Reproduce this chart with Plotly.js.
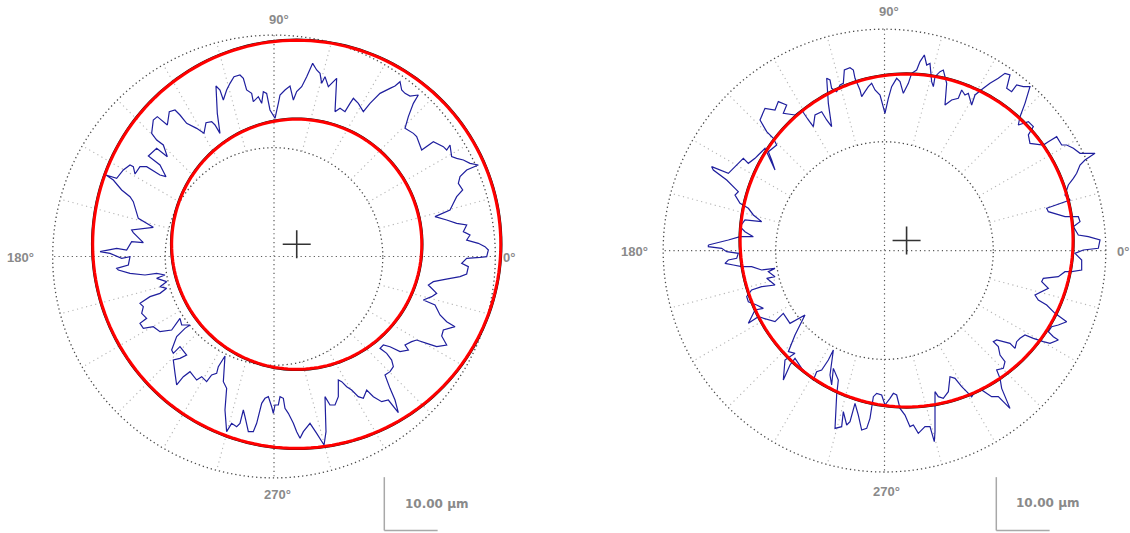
<!DOCTYPE html>
<html><head><meta charset="utf-8">
<script src="https://cdn.plot.ly/plotly-3.0.1.min.js"></script>
<style>html,body{margin:0;padding:0;background:#fff}#chart{width:1130px;height:533px}</style>
</head><body><div id="chart"></div>
<script>
// ---- axis / grid values ----
const angleTickVals = [0, 90, 180, 270];
const angleTickText = ['0°', '90°', '180°', '270°'];
const spokeAngles = [15,30,45,60,75,105,120,135,150,165,195,210,225,240,255,285,300,315,330,345];
const gridRadii = [20.4, 41.5];      // µm, dotted circles
const radialMax = 44;                // µm (room for fitted circles beyond the outer grid circle)
const scaleBarUm = 10;
const scaleBarLabel = '10.00 µm';

// ---- left profile (µm from polar centre) ----
const leftProfileX = [
-32.63,-29.5,-27.63,-26.69,-24.5,-26.38,-26.69,-22.63,-25.44,-26.38,
-27,-28.56,-30.13,-31.5,-29.5,-28.25,-27,-26.38,-26.06,-25.13,
-23.88,-21.38,-20.25,-21.38,-23.56,-22,-20,-20.75,-22,-22.94,
-22.63,-21.88,-20,-19.63,-18.56,-17.63,-16.38,-14.5,-13.13,-12.75,
-11.69,-11.06,-10.13,-10.63,-10.88,-10.13,-9.5,-8.88,-8.25,-7.5,
-6.38,-5.75,-5.13,-4.19,-3.88,-2.94,-2.31,-2,-1.38,-0.75,
0.19,0.81,1.13,2.06,3,3.63,4.25,5.19,6.13,7.25,
8,8.63,8.94,9.56,10.19,11.13,11.75,11.44,12.38,13.31,
14.25,14.88,15.19,15.81,16.75,18,19.88,21.75,22.69,23.63,
23.94,24.56,25.5,27.06,26.13,25.19,24.56,26.13,26.75,27.69,
29.88,31.75,32.38,33,33.31,34.25,35.5,36.75,38.31,36.13,
34.88,34.56,35.38,34.25,33.63,33,30.19,32.38,34.25,36.13,
35.5,36.75,36.13,38.31,39.56,40.19,39.88,
38.63,36.13,35.19,36.44,36.13,34.88,32.06,29.88,28.94,30.5,
29.56,28,30.19,31.13,32.38,33.94,31.75,31.44,32.38,30.5,
28.63,26.75,25.81,24.56,25.19,23.63,21.75,20.5,19.88,21.13,
22.06,22.38,21.75,20.81,21.75,22.69,23.31,21.44,20.19,18.63,
17.38,16.75,15.81,14.56,13.63,12.69,12.06,12.06,11.44,10.5,
9.56,9.75,9.38,8,6.75,5.5,4.88,4.25,3.63,2.69,
2.06,1.75,1.13,0.81,0.19,-0.13,-0.44,-1.06,-1.69,-2.31,
-3.25,-3.88,-4.81,-5.44,-5.75,-6.38,-7,-7.94,-8.88,-9.19,
-8.88,-9.5,-9.19,-10.44,-10.75,-11.69,-12.63,-13.56,-14.5,-15.75,
-17,-18.25,-18.56,-18.88,-17.63,-16.38,-17.63,-18.88,-19.19,-18.25,
-16.69,-15.75,-17.31,-17.63,-19.19,-21.38,-22.63,-24.5,-25.13,-23.88,
-24.81,-24.5,-25.13,-23.25,-21.38,-20.13,-21.38,-20.13,-22,-20.44,
-22,-24.19,-27,-29.19,-29.5,-27.31,-27,-28.56,-30.75
];
const leftProfileY = [
0.91,1.53,1.22,2.78,2.59,4.47,4.97,5.47,7.16,10.28,
11.22,12.47,14.34,15.28,14.66,16.22,17.16,16.84,15.47,16.84,
16.84,15.28,14.97,17.16,18.84,20.28,18.72,20.91,21.84,23.09,
25.59,26.22,24.66,27.16,27.47,26.53,24.97,24.03,23.09,25.09,
25.28,24.66,23.09,26.84,31.97,31.22,29.34,31.22,32.47,33.72,
34.03,33.41,31.22,30.59,29.03,29.97,28.72,30.91,30.59,27.47,
25.91,28.72,30.28,31.22,31.97,29.34,30.91,31.84,33.72,36.22,
34.97,34.34,32.47,33.72,31.84,32.78,33.41,27.16,27.78,27.16,
28.72,29.66,29.34,28.72,27.16,28.72,30.59,31.53,31.97,32.78,
31.22,30.59,30.09,30.28,28.72,26.22,24.03,23.09,22.47,19.97,
21.53,20.59,19.97,20.91,18.72,18.41,18.09,17.47,17.16,16.22,
14.97,13.72,12.47,11.22,9.97,8.72,7.47,6.84,6.22,5.91,
4.66,4.03,3.09,2.47,1.84,1.22,-0.03,
-0.16,-0.34,-1.28,-1.91,-3.28,-3.78,-4.28,-4.72,-5.34,-6.91,
-7.53,-8.16,-9.09,-10.97,-12.22,-13.16,-13.78,-14.91,-16.59,-16.91,
-16.28,-15.66,-15.97,-16.59,-17.53,-17.84,-16.91,-16.59,-17.22,-18.16,
-19.41,-20.66,-21.59,-22.22,-24.72,-26.91,-29.28,-26.91,-27.22,-26.28,
-25.03,-26.59,-26.28,-25.03,-24.41,-23.47,-23.16,-26.28,-27.84,-27.84,
-26.28,-32.84,-35.34,-33.16,-31.28,-32.84,-34.09,-32.84,-31.28,-29.41,
-28.47,-26.59,-26.28,-27.84,-27.84,-29.41,-28.16,-26.28,-26.59,-27.53,
-31.28,-32.84,-32.84,-30.03,-28.78,-31.28,-31.91,-31.28,-32.84,-28.78,
-24.72,-23.47,-18.66,-20.66,-21.91,-22.22,-23.47,-22.53,-23.16,-21.59,
-22.53,-24.09,-21.91,-19.41,-19.09,-18.47,-16.91,-18.16,-17.53,-15.03,
-13.47,-12.84,-12.84,-11.59,-13.78,-14.09,-13.16,-13.47,-12.53,-11.59,
-10.66,-9.41,-8.78,-7.53,-6.91,-5.97,-5.66,-4.72,-4.09,-3.47,
-3.16,-3.47,-3.16,-2.53,-2.22,-1.59,-0.03,-0.34,0.59
];
const leftFitCentre = [4.26, 2.29];      // µm
const leftFitRadii = [38.25, 23.44];     // µm (outer, inner)

// ---- right profile ----
const rightProfileX = [
-33.03,-29.28,-27.09,-24.59,-26.16,-27.09,-26.16,-23.03,-24.59,-25.53,
-27.09,-28.03,-27.41,-29.59,-32.09,-32.41,-29.28,-27.41,-26.47,-25.53,
-24.28,-23.66,-22.41,-20.53,-21.16,-21.78,-20.22,-20.84,-22.09,-23.34,
-22.41,-20.53,-19.91,-18.34,-18.97,-16.78,-15.53,-14.28,-13.34,-13.03,
-11.78,-10.84,-9.91,-10.53,-10.84,-10.22,-9.91,-8.97,-8.34,-7.72,
-7.53,-6.47,-5.84,-5.53,-4.59,-4.28,-3.66,-3.03,-2.41,-1.78,
-0.84,0.09,0.72,1.34,2.28,2.91,3.53,4.47,5.09,6.03,
6.66,7.47,7.91,8.53,8.84,9.16,9.47,10.41,11.03,11.66,
11.34,12.59,13.84,14.47,15.09,15.72,16.34,16.97,18.53,19.78,
21.34,22.59,23.53,22.91,23.84,24.78,26.03,27.28,26.34,25.41,
25.09,26.97,27.91,26.97,27.28,29.78,30.72,32.28,33.22,34.16,
35.41,36.66,39.47,37.59,36.66,36.03,35.41,34.47,33.84,34.78,
30.41,30.72,33.84,36.34,36.66,35.41,36.34,38.22,40.41,40.09,
37.28,35.72,36.97,36.97,35.09,33.84,32.59,29.78,29.47,30.72,
28.22,28.84,30.41,31.97,34.16,32.59,31.34,30.72,31.66,32.59,
31.03,29.78,27.91,26.34,25.41,24.78,24.47,23.53,22.28,21.03,
20.41,21.34,21.66,22.59,22.28,21.03,21.66,21.97,23.53,21.34,
20.09,18.22,16.97,16.34,15.41,14.47,13.22,12.28,11.97,11.03,
10.09,9.47,9.47,9.34,8.53,7.59,6.34,5.41,4.78,3.84,
2.91,2.28,1.66,1.03,0.09,-0.53,-1.47,-2.09,-2.72,-3.34,
-4.28,-4.91,-5.53,-6.47,-7.09,-7.72,-8.03,-9.28,-8.97,-8.66,
-9.59,-9.91,-10.22,-9.59,-10.53,-11.78,-12.72,-13.34,-14.28,-15.53,
-16.78,-17.72,-18.97,-18.66,-16.78,-18.03,-16.78,-14.91,-17.72,-18.97,
-20.53,-23.66,-25.53,-24.91,-24.28,-22.72,-23.97,-25.53,-25.84,-24.91,
-23.03,-20.53,-22.09,-20.53,-21.78,-20.53,-23.03,-24.91,-26.78,-28.34,
-29.91,-29.28,-27.72,-27.41,-29.59,-30.53,-33.03
];
const rightProfileY = [
1.05,1.99,2.61,2.61,3.55,4.49,5.74,5.43,6.68,7.93,
8.86,10.43,11.05,13.24,15.11,15.74,14.49,16.36,17.3,16.36,
17.3,17.93,19.18,15.11,16.99,18.55,19.8,21.05,22.3,24.49,
26.68,26.36,27.93,27.3,25.74,25.43,26.36,24.49,23.24,25.43,
26.05,24.49,23.24,27.61,32.3,31.99,30.43,29.8,31.05,31.36,
33.86,34.3,33.86,32.3,30.11,28.86,29.8,30.74,31.36,30.11,
29.18,25.74,28.55,30.74,32.3,31.68,29.49,31.36,33.24,33.86,
35.43,36.68,34.8,35.11,31.68,30.74,32.61,33.55,33.86,31.36,
27.3,28.24,28.55,30.11,29.18,29.49,27.3,29.18,30.43,31.36,
32.3,33.24,32.93,30.43,29.8,31.05,30.74,30.74,27.61,25.11,
23.55,24.18,23.24,21.68,20.11,19.8,20.43,21.36,19.8,19.8,
19.18,18.24,18.24,16.99,16.05,14.49,13.55,12.3,10.43,9.49,
7.93,7.3,6.36,6.36,5.43,4.49,2.93,2.61,1.99,0.43,
0.11,-0.51,-1.76,-3.64,-3.95,-3.95,-4.89,-5.2,-5.83,-7.08,
-8.33,-9.26,-10.2,-11.76,-13.33,-13.95,-14.26,-15.2,-16.14,-16.76,
-17.39,-17.08,-16.45,-15.83,-16.45,-17.08,-18.33,-17.39,-17.08,-16.76,
-17.08,-18.01,-19.58,-20.83,-22.08,-22.39,-23.95,-25.83,-29.58,-27.39,
-27.39,-26.14,-26.45,-27.39,-26.45,-25.51,-23.95,-23.64,-26.45,-27.7,
-27.39,-26.45,-33.95,-35.83,-33.01,-33.01,-34.26,-32.7,-33.01,-30.83,
-29.58,-27.08,-26.76,-27.7,-28.95,-27.08,-26.76,-27.39,-31.45,-33.33,
-33.64,-30.83,-28.64,-32.08,-32.7,-30.2,-33.01,-33.33,-27.08,-24.26,
-22.08,-25.2,-23.33,-18.64,-20.51,-22.39,-22.7,-24.26,-23.33,-22.08,
-20.2,-21.45,-24.26,-20.51,-19.26,-18.95,-15.83,-12.08,-13.64,-11.76,
-13.33,-12.39,-13.64,-12.39,-11.14,-10.83,-10.2,-9.58,-8.64,-7.39,
-6.76,-6.45,-5.2,-4.89,-3.95,-3.33,-3.64,-3.01,-3.01,-2.7,
-2.39,-1.76,-1.45,-0.51,-0.2,0.43,0.74
];
const rightFitCentre = [4.14, 1.89];
const rightFitRadii = [31.2];

// ---- helpers ----
function toPolar(xs, ys, close) {
  const r = [], t = [];
  for (let i = 0; i < xs.length; i++) {
    r.push(Math.hypot(xs[i], ys[i]));
    t.push(Math.atan2(ys[i], xs[i]) * 180 / Math.PI);
  }
  if (close) { r.push(r[0]); t.push(t[0]); }
  return { r, t };
}
function fitCircle(c, R) {
  const xs = [], ys = [];
  for (let a = 0; a <= 360; a += 2) {
    xs.push(c[0] + R * Math.cos(a * Math.PI / 180));
    ys.push(c[1] + R * Math.sin(a * Math.PI / 180));
  }
  return toPolar(xs, ys, false);
}

const traces = [];
function addPlot(sub, px, py, centre, radii) {
  const rOut = gridRadii[gridRadii.length - 1];
  // faint spokes between the dotted circles
  const sr = [], st = [];
  spokeAngles.forEach(a => { sr.push(gridRadii[0], rOut, null); st.push(a, a, null); });
  traces.push({ type: 'scatterpolar', subplot: sub, mode: 'lines', r: sr, theta: st, cliponaxis: false,
    line: { color: '#b5b5b5', width: 1.1, dash: '1.2px,3.5px' }, hoverinfo: 'skip', connectgaps: false });
  // dotted main axes (0/180 and 90/270) out to the outer grid circle
  traces.push({ type: 'scatterpolar', subplot: sub, mode: 'lines', cliponaxis: false,
    r: [rOut, 0, rOut, null, rOut, 0, rOut],
    theta: [angleTickVals[0], angleTickVals[0], angleTickVals[2], null, angleTickVals[1], angleTickVals[1], angleTickVals[3]],
    line: { color: '#5a5a5a', width: 1.2, dash: '1.2px,3.2px' }, hoverinfo: 'skip', connectgaps: false });
  const p = toPolar(px, py, true);
  traces.push({ type: 'scatterpolar', subplot: sub, mode: 'lines', r: p.r, theta: p.t, cliponaxis: false,
    line: { color: '#1f1f9e', width: 1.2 }, hoverinfo: 'skip' });
  radii.forEach(R => {
    const cb = fitCircle(centre, R + 0.22);
    traces.push({ type: 'scatterpolar', subplot: sub, mode: 'lines', r: cb.r, theta: cb.t, cliponaxis: false,
      line: { color: '#111', width: 1.2 }, hoverinfo: 'skip' });
    const c = fitCircle(centre, R);
    traces.push({ type: 'scatterpolar', subplot: sub, mode: 'lines', r: c.r, theta: c.t, cliponaxis: false,
      line: { color: '#ff0000', width: 3 }, hoverinfo: 'skip' });
  });
  const cc = toPolar([centre[0]], [centre[1]], false);
  traces.push({ type: 'scatterpolar', subplot: sub, mode: 'markers', r: cc.r, theta: cc.t, cliponaxis: false,
    marker: { symbol: 'cross-thin', size: 20, line: { color: '#333', width: 1.6 } }, hoverinfo: 'skip' });
}
addPlot('polar', leftProfileX, leftProfileY, leftFitCentre, leftFitRadii);
addPlot('polar2', rightProfileX, rightProfileY, rightFitCentre, rightFitRadii);

const W = 1130, H = 533;
function polarLayout(dx, dy) {
  return {
    domain: { x: dx, y: dy }, bgcolor: 'rgba(0,0,0,0)',
    radialaxis: { range: [0, radialMax], tickmode: 'array', tickvals: gridRadii, showticklabels: false,
      ticks: '', showline: false, showgrid: true, gridcolor: '#4a4a4a', gridwidth: 1.3, griddash: '1.3px,2.9px' },
    angularaxis: { tickmode: 'array', tickvals: angleTickVals, ticktext: angleTickText,
      showline: false, showgrid: false, ticks: '', showticklabels: false,
      direction: 'counterclockwise', rotation: 0 }
  };
}
const leftDom = { x: [0.034808, 0.450150], y: [0.078480, 0.959043] };
const rightDom = { x: [0.575075, 0.990415], y: [0.089550, 0.970113] };
const pxPerUm = ((leftDom.x[1] - leftDom.x[0]) * W / 2) / radialMax;
const barPx = scaleBarUm * pxPerUm;

function scaleBar(xPx, yPx) {
  const x0 = xPx / W, y0 = (H - yPx) / H;
  const ln = { color: '#a8a8a8', width: 1.5 };
  return [
    { type: 'line', xref: 'paper', yref: 'paper', x0: x0, x1: x0, y0: y0, y1: y0 + barPx / H, line: ln },
    { type: 'line', xref: 'paper', yref: 'paper', x0: x0, x1: x0 + barPx / W, y0: y0, y1: y0, line: ln }
  ];
}
const tickFont = { family: 'Liberation Sans, Arial, sans-serif', size: 13, color: '#8a8a8a', weight: 'bold' };
const labFont = { family: 'DejaVu Sans, sans-serif', size: 12, color: '#8a8a8a', weight: 'bold' };

// angle labels placed around each dial: [x px, y px, xanchor]
function angleLabels(pos) {
  return angleTickText.map((t, i) => ({ xref: 'paper', yref: 'paper', x: pos[i][0] / W, y: (H - pos[i][1]) / H,
    xanchor: pos[i][2], yanchor: 'middle', text: t, showarrow: false, font: tickFont }));
}
const leftLabelPos = [[501, 257, 'left'], [279, 20, 'center'], [36, 257, 'right'], [277, 494, 'center']];
const rightLabelPos = [[1115, 251.5, 'left'], [889, 12, 'center'], [650, 251.5, 'right'], [886, 491.5, 'center']];

const layout = {
  width: W, height: H, margin: { l: 0, r: 0, t: 0, b: 0 },
  paper_bgcolor: '#fff', showlegend: false,
  polar: polarLayout(leftDom.x, leftDom.y),
  polar2: polarLayout(rightDom.x, rightDom.y),
  shapes: scaleBar(384.3, 530.5).concat(scaleBar(996.3, 530.5)),
  annotations: angleLabels(leftLabelPos).concat(angleLabels(rightLabelPos)).concat([
    { xref: 'paper', yref: 'paper', x: 403 / W, y: (H - 504) / H, xanchor: 'left', yanchor: 'middle',
      text: scaleBarLabel, showarrow: false, font: labFont },
    { xref: 'paper', yref: 'paper', x: 1013.6 / W, y: (H - 502.7) / H, xanchor: 'left', yanchor: 'middle',
      text: scaleBarLabel, showarrow: false, font: labFont }
  ])
};
Plotly.newPlot('chart', traces, layout, { displayModeBar: false, staticPlot: true });
</script></body></html>
